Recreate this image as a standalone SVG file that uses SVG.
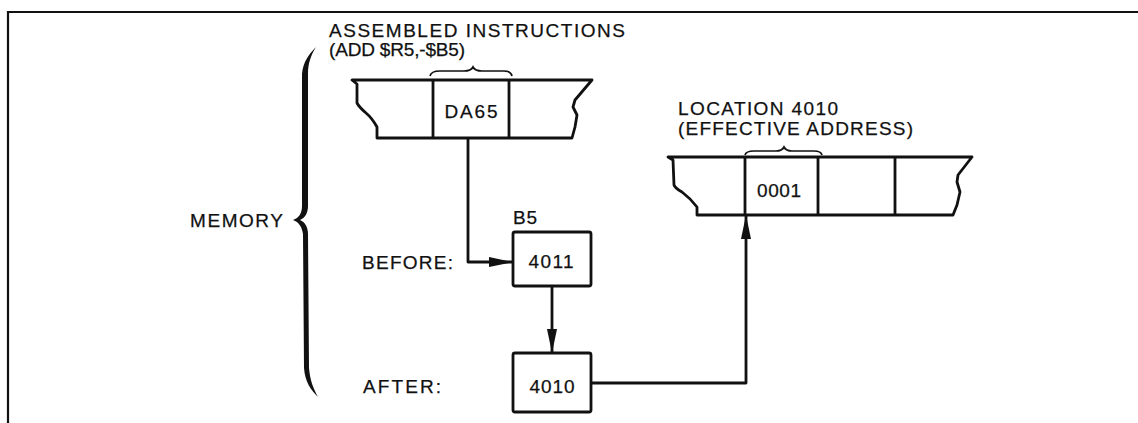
<svg xmlns="http://www.w3.org/2000/svg" width="1138" height="423" viewBox="0 0 1138 423">
<style>
.t{font-family:"Liberation Sans",Arial,sans-serif;font-size:19px;fill:#111;stroke:#111;stroke-width:0.25}
.m{text-anchor:middle}
.ln{fill:none;stroke:#111;stroke-width:2.8;stroke-linejoin:round}
.br{fill:none;stroke:#111;stroke-width:1.7}
.box{fill:#fff;stroke:#111;stroke-width:2.8}
</style>
<defs>
<marker id="ah" markerWidth="24" markerHeight="12" refX="23" refY="5" orient="auto" markerUnits="userSpaceOnUse">
<path d="M0,0 L24,5 L0,10 Z" fill="#111"/>
</marker>
</defs>
<rect width="1138" height="423" fill="#fff"/>
<path d="M8,423 L8,12 L1138,12" fill="none" stroke="#111" stroke-width="2.2"/>

<g id="memory-label">
<path d="M316,47 C309,54 303,62 302,74 L302,206 C302,213 299,218 293,220 C299,222 302,227 303,234 L304,368 C305,382 311,390 318,397 C313,388 310,380 309,368 L308,234 C308,227 305,222 300,220 C305,218 308,213 308,206 L308,74 C308,63 311,55 316,47 Z" fill="#111"/>
<text class="t" x="190" y="227" textLength="93">MEMORY</text>
</g>

<g id="instr-strip">
<text class="t" x="329" y="37" textLength="296">ASSEMBLED INSTRUCTIONS</text>
<text class="t" x="329" y="56" textLength="136">(ADD $R5,-$B5)</text>
<path class="br" d="M430,76 Q431,71 440,71 L464,71 Q471,71 473,67 Q475,71 482,71 L504,71 Q511,71 512,76"/>
<path class="ln" d="M352,80 L592,80 L575,100 L573,107 L577,115 L575,127 L572,138 L377,138 L377,127 Q372,118 366,113 Q359,107 357,103 L357,84 Z"/>
<line class="ln" x1="433" y1="80" x2="433" y2="138"/>
<line class="ln" x1="509" y1="80" x2="509" y2="138"/>
<text class="t m" x="471" y="118" textLength="53">DA65</text>
</g>

<g id="loc-strip">
<text class="t" x="678" y="115" textLength="160">LOCATION 4010</text>
<text class="t" x="678" y="135" textLength="235">(EFFECTIVE ADDRESS)</text>
<path class="br" d="M745,155 Q746,151 754,151 L776,151 Q782,151 784,147 Q786,151 792,151 L814,151 Q821,151 822,155"/>
<path class="ln" d="M668,157 L972,157 L958,175 L957,182 L960,192 L957,205 L953,215 L697,215 L697,207 Q690,198 682,192 Q675,188 674,185 L673,160 Z"/>
<line class="ln" x1="745" y1="157" x2="745" y2="215"/>
<line class="ln" x1="818" y1="157" x2="818" y2="215"/>
<line class="ln" x1="895" y1="157" x2="895" y2="215"/>
<text class="t m" x="779" y="197" textLength="44">0001</text>
</g>

<g id="b5-before">
<text class="t" x="513" y="224" textLength="24">B5</text>
<text class="t" x="362" y="269" textLength="91">BEFORE:</text>
<rect class="box" x="513" y="232" width="78" height="54" rx="2"/>
<text class="t m" x="551" y="268" textLength="45">4011</text>
</g>

<g id="b5-after">
<text class="t" x="363" y="393" textLength="78">AFTER:</text>
<rect class="box" x="513" y="353" width="78" height="59" rx="2"/>
<text class="t m" x="552" y="393" textLength="45">4010</text>
</g>

<g id="connectors">
<path class="ln" d="M468,138 L468,262 L512,262" marker-end="url(#ah)"/>
<path class="ln" d="M552,286 L552,352" marker-end="url(#ah)"/>
<path class="ln" d="M591,383 L746,383 L746,216" marker-end="url(#ah)"/>
</g>
</svg>
